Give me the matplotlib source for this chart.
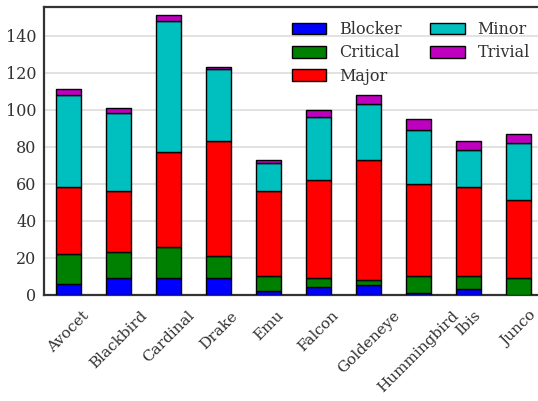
import numpy as np
import matplotlib
matplotlib.use("Agg")
import matplotlib.pyplot as plt

birds = ["Avocet", "Blackbird", "Cardinal", "Drake", "Emu",
         "Falcon", "Goldeneye", "Hummingbird", "Ibis", "Junco"]
severities = ["Blocker", "Critical", "Major", "Minor", "Trivial"]

blocker = [6, 9, 9, 9, 2, 4, 5, 1, 3, 0]
critical = [16, 14, 17, 12, 8, 5, 3, 9, 7, 9]
major = [36, 33, 51, 62, 46, 53, 65, 50, 48, 42]
minor = [50, 42, 71, 39, 15, 34, 30, 29, 20, 31]
trivial = [3, 3, 3, 1, 2, 4, 5, 6, 5, 5]

colors = ["#0000ff", "#008000", "#ff0000", "#00bfbf", "#bf00bf"]

plt.rcParams["font.family"] = ["DejaVu Serif"]

fig = plt.figure(figsize=(5.38, 4.01), dpi=100)
ax = fig.add_axes([43.5 / 538, 1 - 294.7 / 401, 500 / 538, 287.7 / 401])

x = np.arange(len(birds))
bottom = np.zeros(len(birds))
for name, vals, col in zip(severities, [blocker, critical, major, minor, trivial], colors):
    ax.bar(x, vals, width=0.5, bottom=bottom, color=col, edgecolor="black",
           linewidth=1.0, label=name, zorder=3)
    bottom += np.array(vals)

ax.set_xlim(-0.51, 9.5)
ax.set_ylim(0, 155.5)
ax.set_yticks([0, 20, 40, 60, 80, 100, 120, 140])
ax.set_xticks(x)
ax.set_xticklabels(birds, rotation=45)

ax.yaxis.grid(True, color="#dddddd", linewidth=1.2, zorder=0)
ax.set_axisbelow(True)
for side in ["left", "bottom", "top"]:
    ax.spines[side].set_color("#333333")
    ax.spines[side].set_linewidth(1.6)
ax.spines["right"].set_visible(False)
ax.tick_params(axis="both", length=0, colors="#333333")
ax.tick_params(axis="y", pad=5, labelsize=11.5)
ax.tick_params(axis="x", pad=10, labelsize=11)

ax.legend(ncol=2, frameon=False, loc="upper left",
          bbox_to_anchor=(292 / 538, 1 - 21 / 401), bbox_transform=fig.transFigure,
          borderpad=0, borderaxespad=0, handlelength=2.15, handleheight=0.75,
          handletextpad=0.8, columnspacing=1.8, labelspacing=0.4, fontsize=11.5,
          labelcolor="#333333")

fig.savefig("out.png", dpi=100)
